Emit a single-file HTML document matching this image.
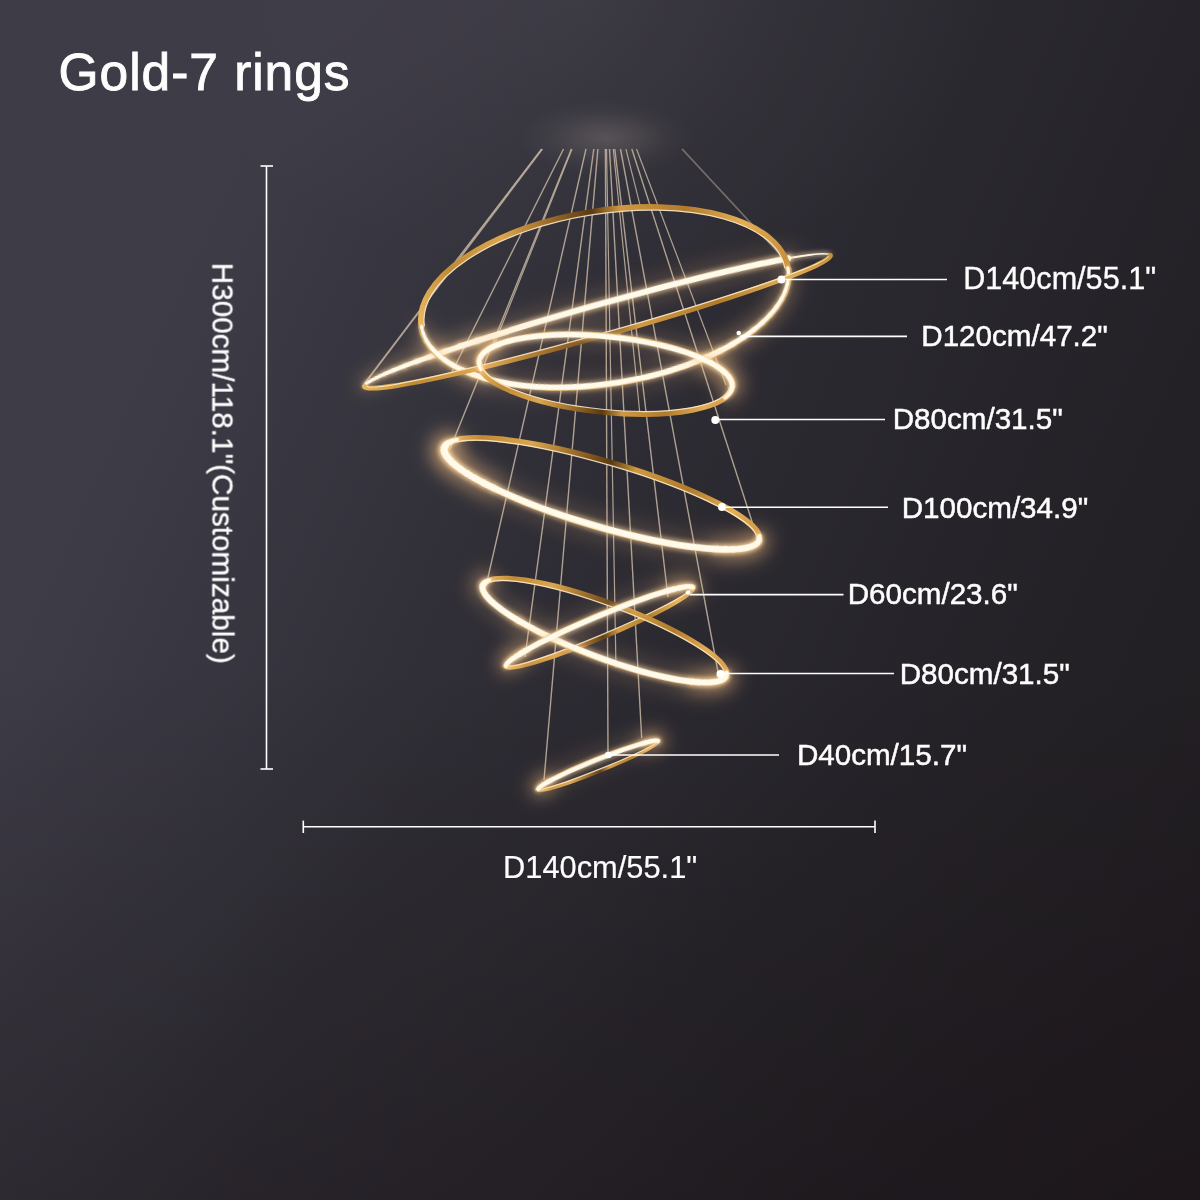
<!DOCTYPE html>
<html><head><meta charset="utf-8"><title>Gold-7 rings</title>
<style>
html,body{margin:0;padding:0;width:1200px;height:1200px;overflow:hidden;background:#2a272e;}
#stage{position:relative;width:1200px;height:1200px;overflow:hidden;
 background:
  radial-gradient(ellipse 420px 280px at 580px 0px, rgba(200,190,200,0.05), rgba(200,190,200,0) 100%),
  linear-gradient(to bottom, rgba(14,2,4,0) 0%, rgba(14,2,4,0) 55%, rgba(14,2,4,0.10) 75%, rgba(14,2,4,0.22) 100%),
  linear-gradient(114deg, rgb(62,60,71) 0%, rgb(61,59,70) 19%, rgb(56,54,64) 28%, rgb(52,51,60) 35%, rgb(47,45,53) 44%, rgb(43,41,48) 57%, rgb(38,36,42) 69%, rgb(35,32,37) 82%, rgb(32,28,32) 100%);
 font-family:"Liberation Sans",sans-serif;}
svg{position:absolute;left:0;top:0}
text{font-family:"Liberation Sans",sans-serif;fill:#fff}
</style></head>
<body><div id="stage">
<svg width="1200" height="1200" viewBox="0 0 1200 1200">
<defs>
<filter id="b10" filterUnits="userSpaceOnUse" x="-320" y="-320" width="640" height="640"><feGaussianBlur stdDeviation="9"/></filter>
<filter id="bh" x="-80%" y="-300%" width="260%" height="700%"><feGaussianBlur stdDeviation="13"/></filter>
<filter id="b3" filterUnits="userSpaceOnUse" x="-320" y="-320" width="640" height="640"><feGaussianBlur stdDeviation="2.2"/></filter>
<filter id="b06" filterUnits="userSpaceOnUse" x="-320" y="-320" width="640" height="640"><feGaussianBlur stdDeviation="0.5"/></filter>
<linearGradient id="gold" x1="0" y1="0" x2="1" y2="0">
<stop offset="0" stop-color="#e8b45a"/><stop offset="0.25" stop-color="#c98d3a"/><stop offset="0.5" stop-color="#9a6a2a"/><stop offset="0.75" stop-color="#c98d3a"/><stop offset="1" stop-color="#e0a850"/>
</linearGradient>
<radialGradient id="haze"><stop offset="0" stop-color="#9a8c88" stop-opacity="0.34"/><stop offset="0.35" stop-color="#958884" stop-opacity="0.22"/><stop offset="0.7" stop-color="#908480" stop-opacity="0.07"/><stop offset="1" stop-color="#908480" stop-opacity="0"/></radialGradient>
<linearGradient id="wfade" gradientUnits="userSpaceOnUse" x1="0" y1="149" x2="0" y2="200">
<stop offset="0" stop-color="#fff" stop-opacity="0"/><stop offset="1" stop-color="#fff" stop-opacity="1"/></linearGradient>
<linearGradient id="goldB" x1="0" y1="0" x2="1" y2="0"><stop offset="0" stop-color="#e6b45c"/><stop offset="0.1" stop-color="#c08a34"/><stop offset="0.25" stop-color="#dca64e"/><stop offset="0.42" stop-color="#8a5c20"/><stop offset="0.5" stop-color="#5a3a12"/><stop offset="0.58" stop-color="#d09840"/><stop offset="0.75" stop-color="#b07c2c"/><stop offset="0.9" stop-color="#e2ae56"/><stop offset="1" stop-color="#c8923c"/></linearGradient>
<linearGradient id="goldA" x1="0" y1="0" x2="1" y2="0"><stop offset="0" stop-color="#e6b45c"/><stop offset="0.1" stop-color="#c08a34"/><stop offset="0.25" stop-color="#dca64e"/><stop offset="0.42" stop-color="#8a5c20"/><stop offset="0.5" stop-color="#5a3a12"/><stop offset="0.58" stop-color="#d09840"/><stop offset="0.75" stop-color="#b07c2c"/><stop offset="0.9" stop-color="#e2ae56"/><stop offset="1" stop-color="#c8923c"/></linearGradient>
<linearGradient id="goldC" x1="0" y1="0" x2="1" y2="0"><stop offset="0" stop-color="#e6b45c"/><stop offset="0.1" stop-color="#c08a34"/><stop offset="0.25" stop-color="#dca64e"/><stop offset="0.42" stop-color="#8a5c20"/><stop offset="0.5" stop-color="#5a3a12"/><stop offset="0.58" stop-color="#d09840"/><stop offset="0.75" stop-color="#b07c2c"/><stop offset="0.9" stop-color="#e2ae56"/><stop offset="1" stop-color="#c8923c"/></linearGradient>
<linearGradient id="goldD" x1="0" y1="0" x2="1" y2="0"><stop offset="0" stop-color="#e6b45c"/><stop offset="0.1" stop-color="#c08a34"/><stop offset="0.25" stop-color="#dca64e"/><stop offset="0.42" stop-color="#8a5c20"/><stop offset="0.5" stop-color="#5a3a12"/><stop offset="0.58" stop-color="#d09840"/><stop offset="0.75" stop-color="#b07c2c"/><stop offset="0.9" stop-color="#e2ae56"/><stop offset="1" stop-color="#c8923c"/></linearGradient>
<linearGradient id="goldF" x1="0" y1="0" x2="1" y2="0"><stop offset="0" stop-color="#e6b45c"/><stop offset="0.1" stop-color="#c08a34"/><stop offset="0.25" stop-color="#dca64e"/><stop offset="0.42" stop-color="#8a5c20"/><stop offset="0.5" stop-color="#5a3a12"/><stop offset="0.58" stop-color="#d09840"/><stop offset="0.75" stop-color="#b07c2c"/><stop offset="0.9" stop-color="#e2ae56"/><stop offset="1" stop-color="#c8923c"/></linearGradient>
<linearGradient id="goldE" x1="0" y1="0" x2="1" y2="0"><stop offset="0" stop-color="#e6b45c"/><stop offset="0.1" stop-color="#c08a34"/><stop offset="0.25" stop-color="#dca64e"/><stop offset="0.42" stop-color="#8a5c20"/><stop offset="0.5" stop-color="#5a3a12"/><stop offset="0.58" stop-color="#d09840"/><stop offset="0.75" stop-color="#b07c2c"/><stop offset="0.9" stop-color="#e2ae56"/><stop offset="1" stop-color="#c8923c"/></linearGradient>
<linearGradient id="goldG" x1="0" y1="0" x2="1" y2="0"><stop offset="0" stop-color="#e6b45c"/><stop offset="0.1" stop-color="#c08a34"/><stop offset="0.25" stop-color="#dca64e"/><stop offset="0.42" stop-color="#8a5c20"/><stop offset="0.5" stop-color="#5a3a12"/><stop offset="0.58" stop-color="#d09840"/><stop offset="0.75" stop-color="#b07c2c"/><stop offset="0.9" stop-color="#e2ae56"/><stop offset="1" stop-color="#c8923c"/></linearGradient>
</defs>
<!-- haze at ceiling -->
<ellipse cx="606" cy="138" rx="88" ry="38" fill="url(#haze)"/>
<g stroke="#bdae9c" stroke-width="1.4" stroke-opacity="0.9" fill="none">
<line x1="542.2" y1="149" x2="365" y2="383" stroke-width="2.0"/>
<line x1="563.5" y1="149" x2="452" y2="372" stroke-width="1.4"/>
<line x1="571.4" y1="149" x2="450" y2="449" stroke-width="1.4"/>
<line x1="541.5" y1="149" x2="445" y2="275" stroke-width="1.2"/>
<line x1="586.0" y1="149" x2="486" y2="586" stroke-width="1.4"/>
<line x1="593.8" y1="149" x2="525" y2="657" stroke-width="1.4"/>
<line x1="572.0" y1="149" x2="492" y2="350" stroke-width="1.2"/>
<line x1="597.9" y1="149" x2="544" y2="780" stroke-width="1.4"/>
<line x1="605.4" y1="149" x2="608" y2="753" stroke-width="1.4"/>
<line x1="609.5" y1="149" x2="641.7" y2="738" stroke-width="1.4"/>
<line x1="625.9" y1="149" x2="640" y2="205" stroke-width="1.1"/>
<line x1="606.5" y1="149" x2="616" y2="668" stroke-width="1.2"/>
<line x1="613.3" y1="149" x2="640" y2="415" stroke-width="1.2"/>
<line x1="614.8" y1="149" x2="668" y2="597" stroke-width="1.4"/>
<line x1="636.5" y1="149" x2="726" y2="385" stroke-width="1.2"/>
<line x1="620.5" y1="149" x2="718" y2="672" stroke-width="1.4"/>
<line x1="631.8" y1="149" x2="757" y2="537" stroke-width="1.4"/>
<line x1="682.1" y1="149" x2="787" y2="262" stroke-width="1.8" stroke-opacity="0.5"/>
</g>
<g transform="translate(597.4 321.05) rotate(-15.7)">
<path d="M 195.78 -9.17 A 242.00 15.60 0 0 1 242.00 -0.00" fill="none" stroke="#ffe7c0" stroke-opacity="0.5" stroke-width="5" filter="url(#b3)"/>
<path d="M 195.78 -9.17 A 242.00 15.60 0 0 1 242.00 -0.00" fill="none" stroke="#fff6e2" stroke-width="2.2" stroke-linecap="round"/>
<g fill="none" stroke="#ffc98a" stroke-opacity="0.14" stroke-linecap="round" filter="url(#b10)"><path d="M -242.00 -0.00 A 242.00 15.60 0 0 1 -241.08 -1.36" stroke-width="11.3"/><path d="M -241.08 -1.36 A 242.00 15.60 0 0 1 -238.32 -2.71" stroke-width="12.3"/><path d="M -238.32 -2.71 A 242.00 15.60 0 0 1 -233.75 -4.04" stroke-width="13.3"/><path d="M -233.75 -4.04 A 242.00 15.60 0 0 1 -227.41 -5.34" stroke-width="14.3"/><path d="M -227.41 -5.34 A 242.00 15.60 0 0 1 -219.33 -6.59" stroke-width="15.7"/><path d="M -219.33 -6.59 A 242.00 15.60 0 0 1 -209.58 -7.80" stroke-width="17.4"/><path d="M -209.58 -7.80 A 242.00 15.60 0 0 1 -198.23 -8.95" stroke-width="19.1"/><path d="M -198.23 -8.95 A 242.00 15.60 0 0 1 -185.38 -10.03" stroke-width="20.8"/><path d="M -185.38 -10.03 A 242.00 15.60 0 0 1 -171.12 -11.03" stroke-width="22.3"/><path d="M -171.12 -11.03 A 242.00 15.60 0 0 1 -155.55 -11.95" stroke-width="23.6"/><path d="M -155.55 -11.95 A 242.00 15.60 0 0 1 -138.81 -12.78" stroke-width="25.0"/><path d="M -138.81 -12.78 A 242.00 15.60 0 0 1 -121.00 -13.51" stroke-width="26.3"/><path d="M -121.00 -13.51 A 242.00 15.60 0 0 1 200.63 -8.72" stroke-width="27.0"/></g>
<g fill="none" stroke="#ffd9a0" stroke-opacity="0.55" stroke-linecap="round" filter="url(#b3)"><path d="M -242.00 -0.00 A 242.00 15.60 0 0 1 -241.08 -1.36" stroke-width="4.3"/><path d="M -241.08 -1.36 A 242.00 15.60 0 0 1 -238.32 -2.71" stroke-width="4.7"/><path d="M -238.32 -2.71 A 242.00 15.60 0 0 1 -233.75 -4.04" stroke-width="5.0"/><path d="M -233.75 -4.04 A 242.00 15.60 0 0 1 -227.41 -5.34" stroke-width="5.4"/><path d="M -227.41 -5.34 A 242.00 15.60 0 0 1 -219.33 -6.59" stroke-width="5.9"/><path d="M -219.33 -6.59 A 242.00 15.60 0 0 1 -209.58 -7.80" stroke-width="6.6"/><path d="M -209.58 -7.80 A 242.00 15.60 0 0 1 -198.23 -8.95" stroke-width="7.2"/><path d="M -198.23 -8.95 A 242.00 15.60 0 0 1 -185.38 -10.03" stroke-width="7.8"/><path d="M -185.38 -10.03 A 242.00 15.60 0 0 1 -171.12 -11.03" stroke-width="8.4"/><path d="M -171.12 -11.03 A 242.00 15.60 0 0 1 -155.55 -11.95" stroke-width="8.9"/><path d="M -155.55 -11.95 A 242.00 15.60 0 0 1 -138.81 -12.78" stroke-width="9.4"/><path d="M -138.81 -12.78 A 242.00 15.60 0 0 1 -121.00 -13.51" stroke-width="9.9"/><path d="M -121.00 -13.51 A 242.00 15.60 0 0 1 200.63 -8.72" stroke-width="10.2"/></g>
<g fill="none" stroke="#fffaea" stroke-opacity="1" stroke-linecap="round" filter="url(#b06)"><path d="M -242.00 -0.00 A 242.00 15.60 0 0 1 -241.08 -1.36" stroke-width="2.5"/><path d="M -241.08 -1.36 A 242.00 15.60 0 0 1 -238.32 -2.71" stroke-width="2.7"/><path d="M -238.32 -2.71 A 242.00 15.60 0 0 1 -233.75 -4.04" stroke-width="3.0"/><path d="M -233.75 -4.04 A 242.00 15.60 0 0 1 -227.41 -5.34" stroke-width="3.2"/><path d="M -227.41 -5.34 A 242.00 15.60 0 0 1 -219.33 -6.59" stroke-width="3.5"/><path d="M -219.33 -6.59 A 242.00 15.60 0 0 1 -209.58 -7.80" stroke-width="3.9"/><path d="M -209.58 -7.80 A 242.00 15.60 0 0 1 -198.23 -8.95" stroke-width="4.2"/><path d="M -198.23 -8.95 A 242.00 15.60 0 0 1 -185.38 -10.03" stroke-width="4.6"/><path d="M -185.38 -10.03 A 242.00 15.60 0 0 1 -171.12 -11.03" stroke-width="5.0"/><path d="M -171.12 -11.03 A 242.00 15.60 0 0 1 -155.55 -11.95" stroke-width="5.2"/><path d="M -155.55 -11.95 A 242.00 15.60 0 0 1 -138.81 -12.78" stroke-width="5.6"/><path d="M -138.81 -12.78 A 242.00 15.60 0 0 1 -121.00 -13.51" stroke-width="5.8"/><path d="M -121.00 -13.51 A 242.00 15.60 0 0 1 200.63 -8.72" stroke-width="6.0"/></g>
</g>
<g transform="translate(604.7 297.2) rotate(-9.04)">
<path d="M -185.50 -0.00 A 185.50 86.30 0 0 1 185.50 -0.00" fill="none" stroke="url(#goldA)" stroke-width="6" stroke-linecap="round"/>
<path d="M -182.50 -0.00 A 182.50 83.30 0 0 1 182.50 -0.00" fill="none" stroke="#fff0d4" stroke-opacity="0.85" stroke-width="1.2"/>
</g>
<g transform="translate(604.7 297.2) rotate(-9.04)">
<path d="M -188.25 -0.00 A 188.25 89.05 0 0 0 188.25 0.00" fill="none" stroke="#b9822f" stroke-width="1.6"/>
<g fill="none" stroke="#ffc98a" stroke-opacity="0.14" stroke-linecap="round" filter="url(#b10)"><path d="M -185.50 -0.00 A 185.50 86.30 0 0 0 -184.79 7.52" stroke-width="14.4"/><path d="M -184.79 7.52 A 185.50 86.30 0 0 0 -182.68 14.99" stroke-width="15.8"/><path d="M -182.68 14.99 A 185.50 86.30 0 0 0 -179.18 22.34" stroke-width="17.3"/><path d="M -179.18 22.34 A 185.50 86.30 0 0 0 -174.31 29.52" stroke-width="18.8"/><path d="M -174.31 29.52 A 185.50 86.30 0 0 0 -168.12 36.47" stroke-width="20.3"/><path d="M -168.12 36.47 A 185.50 86.30 0 0 0 -160.65 43.15" stroke-width="21.5"/><path d="M -160.65 43.15 A 185.50 86.30 0 0 0 -151.95 49.50" stroke-width="22.4"/><path d="M -151.95 49.50 A 185.50 86.30 0 0 0 -142.10 55.47" stroke-width="23.4"/><path d="M -142.10 55.47 A 185.50 86.30 0 0 0 -131.17 61.02" stroke-width="24.3"/><path d="M -131.17 61.02 A 185.50 86.30 0 0 0 92.75 74.74" stroke-width="24.8"/><path d="M 92.75 74.74 A 185.50 86.30 0 0 0 106.40 70.69" stroke-width="24.2"/><path d="M 106.40 70.69 A 185.50 86.30 0 0 0 119.24 66.11" stroke-width="23.2"/><path d="M 119.24 66.11 A 185.50 86.30 0 0 0 131.17 61.02" stroke-width="22.2"/><path d="M 131.17 61.02 A 185.50 86.30 0 0 0 142.10 55.47" stroke-width="21.1"/><path d="M 142.10 55.47 A 185.50 86.30 0 0 0 151.95 49.50" stroke-width="20.1"/><path d="M 151.95 49.50 A 185.50 86.30 0 0 0 160.65 43.15" stroke-width="19.1"/><path d="M 160.65 43.15 A 185.50 86.30 0 0 0 168.12 36.47" stroke-width="18.3"/><path d="M 168.12 36.47 A 185.50 86.30 0 0 0 174.31 29.52" stroke-width="17.6"/><path d="M 174.31 29.52 A 185.50 86.30 0 0 0 179.18 22.34" stroke-width="17.0"/><path d="M 179.18 22.34 A 185.50 86.30 0 0 0 182.68 14.99" stroke-width="16.4"/><path d="M 182.68 14.99 A 185.50 86.30 0 0 0 184.79 7.52" stroke-width="15.8"/><path d="M 184.79 7.52 A 185.50 86.30 0 0 0 185.50 0.00" stroke-width="15.2"/></g>
<g fill="none" stroke="#ffd9a0" stroke-opacity="0.55" stroke-linecap="round" filter="url(#b3)"><path d="M -185.50 -0.00 A 185.50 86.30 0 0 0 -184.79 7.52" stroke-width="5.4"/><path d="M -184.79 7.52 A 185.50 86.30 0 0 0 -182.68 14.99" stroke-width="6.0"/><path d="M -182.68 14.99 A 185.50 86.30 0 0 0 -179.18 22.34" stroke-width="6.5"/><path d="M -179.18 22.34 A 185.50 86.30 0 0 0 -174.31 29.52" stroke-width="7.1"/><path d="M -174.31 29.52 A 185.50 86.30 0 0 0 -168.12 36.47" stroke-width="7.7"/><path d="M -168.12 36.47 A 185.50 86.30 0 0 0 -160.65 43.15" stroke-width="8.1"/><path d="M -160.65 43.15 A 185.50 86.30 0 0 0 -151.95 49.50" stroke-width="8.5"/><path d="M -151.95 49.50 A 185.50 86.30 0 0 0 -142.10 55.47" stroke-width="8.8"/><path d="M -142.10 55.47 A 185.50 86.30 0 0 0 -131.17 61.02" stroke-width="9.2"/><path d="M -131.17 61.02 A 185.50 86.30 0 0 0 92.75 74.74" stroke-width="9.3"/><path d="M 92.75 74.74 A 185.50 86.30 0 0 0 106.40 70.69" stroke-width="9.2"/><path d="M 106.40 70.69 A 185.50 86.30 0 0 0 119.24 66.11" stroke-width="8.8"/><path d="M 119.24 66.11 A 185.50 86.30 0 0 0 131.17 61.02" stroke-width="8.4"/><path d="M 131.17 61.02 A 185.50 86.30 0 0 0 142.10 55.47" stroke-width="8.0"/><path d="M 142.10 55.47 A 185.50 86.30 0 0 0 151.95 49.50" stroke-width="7.6"/><path d="M 151.95 49.50 A 185.50 86.30 0 0 0 160.65 43.15" stroke-width="7.2"/><path d="M 160.65 43.15 A 185.50 86.30 0 0 0 168.12 36.47" stroke-width="6.9"/><path d="M 168.12 36.47 A 185.50 86.30 0 0 0 174.31 29.52" stroke-width="6.7"/><path d="M 174.31 29.52 A 185.50 86.30 0 0 0 179.18 22.34" stroke-width="6.4"/><path d="M 179.18 22.34 A 185.50 86.30 0 0 0 182.68 14.99" stroke-width="6.2"/><path d="M 182.68 14.99 A 185.50 86.30 0 0 0 184.79 7.52" stroke-width="6.0"/><path d="M 184.79 7.52 A 185.50 86.30 0 0 0 185.50 0.00" stroke-width="5.7"/></g>
<g fill="none" stroke="#fffaea" stroke-opacity="1" stroke-linecap="round" filter="url(#b06)"><path d="M -185.50 -0.00 A 185.50 86.30 0 0 0 -184.79 7.52" stroke-width="3.2"/><path d="M -184.79 7.52 A 185.50 86.30 0 0 0 -182.68 14.99" stroke-width="3.5"/><path d="M -182.68 14.99 A 185.50 86.30 0 0 0 -179.18 22.34" stroke-width="3.8"/><path d="M -179.18 22.34 A 185.50 86.30 0 0 0 -174.31 29.52" stroke-width="4.2"/><path d="M -174.31 29.52 A 185.50 86.30 0 0 0 -168.12 36.47" stroke-width="4.5"/><path d="M -168.12 36.47 A 185.50 86.30 0 0 0 -160.65 43.15" stroke-width="4.8"/><path d="M -160.65 43.15 A 185.50 86.30 0 0 0 -151.95 49.50" stroke-width="5.0"/><path d="M -151.95 49.50 A 185.50 86.30 0 0 0 -142.10 55.47" stroke-width="5.2"/><path d="M -142.10 55.47 A 185.50 86.30 0 0 0 -131.17 61.02" stroke-width="5.4"/><path d="M -131.17 61.02 A 185.50 86.30 0 0 0 92.75 74.74" stroke-width="5.5"/><path d="M 92.75 74.74 A 185.50 86.30 0 0 0 106.40 70.69" stroke-width="5.4"/><path d="M 106.40 70.69 A 185.50 86.30 0 0 0 119.24 66.11" stroke-width="5.2"/><path d="M 119.24 66.11 A 185.50 86.30 0 0 0 131.17 61.02" stroke-width="4.9"/><path d="M 131.17 61.02 A 185.50 86.30 0 0 0 142.10 55.47" stroke-width="4.7"/><path d="M 142.10 55.47 A 185.50 86.30 0 0 0 151.95 49.50" stroke-width="4.5"/><path d="M 151.95 49.50 A 185.50 86.30 0 0 0 160.65 43.15" stroke-width="4.2"/><path d="M 160.65 43.15 A 185.50 86.30 0 0 0 168.12 36.47" stroke-width="4.1"/><path d="M 168.12 36.47 A 185.50 86.30 0 0 0 174.31 29.52" stroke-width="3.9"/><path d="M 174.31 29.52 A 185.50 86.30 0 0 0 179.18 22.34" stroke-width="3.8"/><path d="M 179.18 22.34 A 185.50 86.30 0 0 0 182.68 14.99" stroke-width="3.6"/><path d="M 182.68 14.99 A 185.50 86.30 0 0 0 184.79 7.52" stroke-width="3.5"/><path d="M 184.79 7.52 A 185.50 86.30 0 0 0 185.50 0.00" stroke-width="3.4"/></g>
</g>
<g transform="translate(597.4 321.05) rotate(-15.7)">
<path d="M -242.00 -0.00 A 242.00 15.60 0 0 0 242.00 0.00" fill="none" stroke="url(#goldB)" stroke-width="5" stroke-linecap="round"/>
<path d="M -239.50 -0.00 A 239.50 13.10 0 0 0 239.50 0.00" fill="none" stroke="#fff0d4" stroke-opacity="0.85" stroke-width="1.2"/>
</g>
<g transform="translate(605.6 374.4) rotate(5.72)">
<path d="M -127.20 -0.00 A 127.20 37.80 0 0 0 127.20 0.00" fill="none" stroke="url(#goldC)" stroke-width="5.5" stroke-linecap="round"/>
<path d="M -124.45 -0.00 A 124.45 35.05 0 0 0 124.45 0.00" fill="none" stroke="#fff0d4" stroke-opacity="0.85" stroke-width="1.2"/>
</g>
<g transform="translate(605.6 374.4) rotate(5.72)">
<path d="M -129.95 -0.00 A 129.95 40.55 0 0 1 129.95 -0.00" fill="none" stroke="#b9822f" stroke-width="1.6"/>
<g fill="none" stroke="#ffc98a" stroke-opacity="0.14" stroke-linecap="round" filter="url(#b10)"><path d="M -124.42 7.86 A 127.20 37.80 0 0 1 -126.50 3.95" stroke-width="14.2"/><path d="M -126.50 3.95 A 127.20 37.80 0 0 1 -127.20 -0.00" stroke-width="17.9"/><path d="M -127.20 -0.00 A 127.20 37.80 0 0 1 -126.72 -3.29" stroke-width="20.2"/><path d="M -126.72 -3.29 A 127.20 37.80 0 0 1 -125.27 -6.56" stroke-width="21.0"/><path d="M -125.27 -6.56 A 127.20 37.80 0 0 1 -122.87 -9.78" stroke-width="21.9"/><path d="M -122.87 -9.78 A 127.20 37.80 0 0 1 -119.53 -12.93" stroke-width="22.7"/><path d="M -119.53 -12.93 A 127.20 37.80 0 0 1 -115.28 -15.97" stroke-width="23.5"/><path d="M -115.28 -15.97 A 127.20 37.80 0 0 1 -110.16 -18.90" stroke-width="24.3"/><path d="M -110.16 -18.90 A 127.20 37.80 0 0 1 97.44 -24.30" stroke-width="24.8"/><path d="M 97.44 -24.30 A 127.20 37.80 0 0 1 104.20 -21.68" stroke-width="24.5"/><path d="M 104.20 -21.68 A 127.20 37.80 0 0 1 110.16 -18.90" stroke-width="24.1"/><path d="M 110.16 -18.90 A 127.20 37.80 0 0 1 115.28 -15.97" stroke-width="23.6"/><path d="M 115.28 -15.97 A 127.20 37.80 0 0 1 119.53 -12.93" stroke-width="23.1"/><path d="M 119.53 -12.93 A 127.20 37.80 0 0 1 122.87 -9.78" stroke-width="22.7"/><path d="M 122.87 -9.78 A 127.20 37.80 0 0 1 125.27 -6.56" stroke-width="22.2"/><path d="M 125.27 -6.56 A 127.20 37.80 0 0 1 126.72 -3.29" stroke-width="21.7"/><path d="M 126.72 -3.29 A 127.20 37.80 0 0 1 127.20 -0.00" stroke-width="21.3"/><path d="M 127.20 -0.00 A 127.20 37.80 0 0 1 126.50 3.95" stroke-width="19.6"/><path d="M 126.50 3.95 A 127.20 37.80 0 0 1 124.42 7.86" stroke-width="16.7"/><path d="M 124.42 7.86 A 127.20 37.80 0 0 1 120.97 11.68" stroke-width="13.8"/></g>
<g fill="none" stroke="#ffd9a0" stroke-opacity="0.55" stroke-linecap="round" filter="url(#b3)"><path d="M -124.42 7.86 A 127.20 37.80 0 0 1 -126.50 3.95" stroke-width="5.4"/><path d="M -126.50 3.95 A 127.20 37.80 0 0 1 -127.20 -0.00" stroke-width="6.8"/><path d="M -127.20 -0.00 A 127.20 37.80 0 0 1 -126.72 -3.29" stroke-width="7.6"/><path d="M -126.72 -3.29 A 127.20 37.80 0 0 1 -125.27 -6.56" stroke-width="7.9"/><path d="M -125.27 -6.56 A 127.20 37.80 0 0 1 -122.87 -9.78" stroke-width="8.3"/><path d="M -122.87 -9.78 A 127.20 37.80 0 0 1 -119.53 -12.93" stroke-width="8.6"/><path d="M -119.53 -12.93 A 127.20 37.80 0 0 1 -115.28 -15.97" stroke-width="8.9"/><path d="M -115.28 -15.97 A 127.20 37.80 0 0 1 -110.16 -18.90" stroke-width="9.2"/><path d="M -110.16 -18.90 A 127.20 37.80 0 0 1 97.44 -24.30" stroke-width="9.3"/><path d="M 97.44 -24.30 A 127.20 37.80 0 0 1 104.20 -21.68" stroke-width="9.3"/><path d="M 104.20 -21.68 A 127.20 37.80 0 0 1 110.16 -18.90" stroke-width="9.1"/><path d="M 110.16 -18.90 A 127.20 37.80 0 0 1 115.28 -15.97" stroke-width="8.9"/><path d="M 115.28 -15.97 A 127.20 37.80 0 0 1 119.53 -12.93" stroke-width="8.7"/><path d="M 119.53 -12.93 A 127.20 37.80 0 0 1 122.87 -9.78" stroke-width="8.6"/><path d="M 122.87 -9.78 A 127.20 37.80 0 0 1 125.27 -6.56" stroke-width="8.4"/><path d="M 125.27 -6.56 A 127.20 37.80 0 0 1 126.72 -3.29" stroke-width="8.2"/><path d="M 126.72 -3.29 A 127.20 37.80 0 0 1 127.20 -0.00" stroke-width="8.0"/><path d="M 127.20 -0.00 A 127.20 37.80 0 0 1 126.50 3.95" stroke-width="7.4"/><path d="M 126.50 3.95 A 127.20 37.80 0 0 1 124.42 7.86" stroke-width="6.3"/><path d="M 124.42 7.86 A 127.20 37.80 0 0 1 120.97 11.68" stroke-width="5.2"/></g>
<g fill="none" stroke="#fffaea" stroke-opacity="1" stroke-linecap="round" filter="url(#b06)"><path d="M -124.42 7.86 A 127.20 37.80 0 0 1 -126.50 3.95" stroke-width="3.2"/><path d="M -126.50 3.95 A 127.20 37.80 0 0 1 -127.20 -0.00" stroke-width="4.0"/><path d="M -127.20 -0.00 A 127.20 37.80 0 0 1 -126.72 -3.29" stroke-width="4.5"/><path d="M -126.72 -3.29 A 127.20 37.80 0 0 1 -125.27 -6.56" stroke-width="4.7"/><path d="M -125.27 -6.56 A 127.20 37.80 0 0 1 -122.87 -9.78" stroke-width="4.9"/><path d="M -122.87 -9.78 A 127.20 37.80 0 0 1 -119.53 -12.93" stroke-width="5.0"/><path d="M -119.53 -12.93 A 127.20 37.80 0 0 1 -115.28 -15.97" stroke-width="5.2"/><path d="M -115.28 -15.97 A 127.20 37.80 0 0 1 -110.16 -18.90" stroke-width="5.4"/><path d="M -110.16 -18.90 A 127.20 37.80 0 0 1 97.44 -24.30" stroke-width="5.5"/><path d="M 97.44 -24.30 A 127.20 37.80 0 0 1 104.20 -21.68" stroke-width="5.4"/><path d="M 104.20 -21.68 A 127.20 37.80 0 0 1 110.16 -18.90" stroke-width="5.3"/><path d="M 110.16 -18.90 A 127.20 37.80 0 0 1 115.28 -15.97" stroke-width="5.2"/><path d="M 115.28 -15.97 A 127.20 37.80 0 0 1 119.53 -12.93" stroke-width="5.1"/><path d="M 119.53 -12.93 A 127.20 37.80 0 0 1 122.87 -9.78" stroke-width="5.0"/><path d="M 122.87 -9.78 A 127.20 37.80 0 0 1 125.27 -6.56" stroke-width="4.9"/><path d="M 125.27 -6.56 A 127.20 37.80 0 0 1 126.72 -3.29" stroke-width="4.8"/><path d="M 126.72 -3.29 A 127.20 37.80 0 0 1 127.20 -0.00" stroke-width="4.7"/><path d="M 127.20 -0.00 A 127.20 37.80 0 0 1 126.50 3.95" stroke-width="4.4"/><path d="M 126.50 3.95 A 127.20 37.80 0 0 1 124.42 7.86" stroke-width="3.7"/><path d="M 124.42 7.86 A 127.20 37.80 0 0 1 120.97 11.68" stroke-width="3.1"/></g>
</g>
<g transform="translate(601.8 493.7) rotate(16.34)">
<path d="M -164.00 -0.00 A 164.00 32.50 0 0 1 164.00 -0.00" fill="none" stroke="url(#goldD)" stroke-width="6" stroke-linecap="round"/>
<path d="M -161.00 -0.00 A 161.00 29.50 0 0 1 161.00 -0.00" fill="none" stroke="#fff0d4" stroke-opacity="0.85" stroke-width="1.2"/>
</g>
<g transform="translate(601.8 493.7) rotate(16.34)">
<path d="M -167.25 -0.00 A 167.25 35.75 0 0 0 167.25 0.00" fill="none" stroke="#b9822f" stroke-width="1.6"/>
<g fill="none" stroke="#ffc98a" stroke-opacity="0.14" stroke-linecap="round" filter="url(#b10)"><path d="M -154.11 -11.12 A 164.00 32.50 0 0 0 -158.41 -8.41" stroke-width="16.6"/><path d="M -158.41 -8.41 A 164.00 32.50 0 0 0 -161.51 -5.64" stroke-width="20.7"/><path d="M -161.51 -5.64 A 164.00 32.50 0 0 0 -163.38 -2.83" stroke-width="24.7"/><path d="M -163.38 -2.83 A 164.00 32.50 0 0 0 -164.00 -0.00" stroke-width="28.7"/><path d="M -164.00 -0.00 A 164.00 32.50 0 0 0 -163.38 2.83" stroke-width="30.6"/><path d="M -163.38 2.83 A 164.00 32.50 0 0 0 -161.51 5.64" stroke-width="30.5"/><path d="M -161.51 5.64 A 164.00 32.50 0 0 0 -158.41 8.41" stroke-width="30.3"/><path d="M -158.41 8.41 A 164.00 32.50 0 0 0 -154.11 11.12" stroke-width="30.2"/><path d="M -154.11 11.12 A 164.00 32.50 0 0 0 -148.63 13.74" stroke-width="30.1"/><path d="M -148.63 13.74 A 164.00 32.50 0 0 0 -142.03 16.25" stroke-width="29.9"/><path d="M -142.03 16.25 A 164.00 32.50 0 0 0 -134.34 18.64" stroke-width="29.8"/><path d="M -134.34 18.64 A 164.00 32.50 0 0 0 -125.63 20.89" stroke-width="29.6"/><path d="M -125.63 20.89 A 164.00 32.50 0 0 0 -115.97 22.98" stroke-width="29.5"/><path d="M -115.97 22.98 A 164.00 32.50 0 0 0 -105.42 24.90" stroke-width="29.3"/><path d="M -105.42 24.90 A 164.00 32.50 0 0 0 125.63 20.89" stroke-width="29.2"/><path d="M 125.63 20.89 A 164.00 32.50 0 0 0 134.34 18.64" stroke-width="28.9"/><path d="M 134.34 18.64 A 164.00 32.50 0 0 0 142.03 16.25" stroke-width="28.2"/><path d="M 142.03 16.25 A 164.00 32.50 0 0 0 148.63 13.74" stroke-width="27.4"/><path d="M 148.63 13.74 A 164.00 32.50 0 0 0 154.11 11.12" stroke-width="26.7"/><path d="M 154.11 11.12 A 164.00 32.50 0 0 0 158.41 8.41" stroke-width="26.0"/><path d="M 158.41 8.41 A 164.00 32.50 0 0 0 161.51 5.64" stroke-width="25.2"/><path d="M 161.51 5.64 A 164.00 32.50 0 0 0 163.38 2.83" stroke-width="24.5"/><path d="M 163.38 2.83 A 164.00 32.50 0 0 0 164.00 0.00" stroke-width="23.8"/><path d="M 164.00 0.00 A 164.00 32.50 0 0 0 163.10 -3.40" stroke-width="20.5"/></g>
<g fill="none" stroke="#ffd9a0" stroke-opacity="0.55" stroke-linecap="round" filter="url(#b3)"><path d="M -154.11 -11.12 A 164.00 32.50 0 0 0 -158.41 -8.41" stroke-width="6.3"/><path d="M -158.41 -8.41 A 164.00 32.50 0 0 0 -161.51 -5.64" stroke-width="7.8"/><path d="M -161.51 -5.64 A 164.00 32.50 0 0 0 -163.38 -2.83" stroke-width="9.3"/><path d="M -163.38 -2.83 A 164.00 32.50 0 0 0 -164.00 -0.00" stroke-width="10.8"/><path d="M -164.00 -0.00 A 164.00 32.50 0 0 0 -163.38 2.83" stroke-width="11.6"/><path d="M -163.38 2.83 A 164.00 32.50 0 0 0 -161.51 5.64" stroke-width="11.5"/><path d="M -161.51 5.64 A 164.00 32.50 0 0 0 -158.41 8.41" stroke-width="11.5"/><path d="M -158.41 8.41 A 164.00 32.50 0 0 0 -154.11 11.12" stroke-width="11.4"/><path d="M -154.11 11.12 A 164.00 32.50 0 0 0 -148.63 13.74" stroke-width="11.4"/><path d="M -148.63 13.74 A 164.00 32.50 0 0 0 -142.03 16.25" stroke-width="11.3"/><path d="M -142.03 16.25 A 164.00 32.50 0 0 0 -134.34 18.64" stroke-width="11.2"/><path d="M -134.34 18.64 A 164.00 32.50 0 0 0 -125.63 20.89" stroke-width="11.2"/><path d="M -125.63 20.89 A 164.00 32.50 0 0 0 -115.97 22.98" stroke-width="11.1"/><path d="M -115.97 22.98 A 164.00 32.50 0 0 0 -105.42 24.90" stroke-width="11.1"/><path d="M -105.42 24.90 A 164.00 32.50 0 0 0 125.63 20.89" stroke-width="11.0"/><path d="M 125.63 20.89 A 164.00 32.50 0 0 0 134.34 18.64" stroke-width="10.9"/><path d="M 134.34 18.64 A 164.00 32.50 0 0 0 142.03 16.25" stroke-width="10.6"/><path d="M 142.03 16.25 A 164.00 32.50 0 0 0 148.63 13.74" stroke-width="10.4"/><path d="M 148.63 13.74 A 164.00 32.50 0 0 0 154.11 11.12" stroke-width="10.1"/><path d="M 154.11 11.12 A 164.00 32.50 0 0 0 158.41 8.41" stroke-width="9.8"/><path d="M 158.41 8.41 A 164.00 32.50 0 0 0 161.51 5.64" stroke-width="9.5"/><path d="M 161.51 5.64 A 164.00 32.50 0 0 0 163.38 2.83" stroke-width="9.3"/><path d="M 163.38 2.83 A 164.00 32.50 0 0 0 164.00 0.00" stroke-width="9.0"/><path d="M 164.00 0.00 A 164.00 32.50 0 0 0 163.10 -3.40" stroke-width="7.7"/></g>
<g fill="none" stroke="#fffaea" stroke-opacity="1" stroke-linecap="round" filter="url(#b06)"><path d="M -154.11 -11.12 A 164.00 32.50 0 0 0 -158.41 -8.41" stroke-width="3.7"/><path d="M -158.41 -8.41 A 164.00 32.50 0 0 0 -161.51 -5.64" stroke-width="4.6"/><path d="M -161.51 -5.64 A 164.00 32.50 0 0 0 -163.38 -2.83" stroke-width="5.5"/><path d="M -163.38 -2.83 A 164.00 32.50 0 0 0 -164.00 -0.00" stroke-width="6.4"/><path d="M -164.00 -0.00 A 164.00 32.50 0 0 0 -163.38 2.83" stroke-width="6.8"/><path d="M -163.38 2.83 A 164.00 32.50 0 0 0 -161.51 5.64" stroke-width="6.8"/><path d="M -161.51 5.64 A 164.00 32.50 0 0 0 -158.41 8.41" stroke-width="6.7"/><path d="M -158.41 8.41 A 164.00 32.50 0 0 0 -154.11 11.12" stroke-width="6.7"/><path d="M -154.11 11.12 A 164.00 32.50 0 0 0 -148.63 13.74" stroke-width="6.7"/><path d="M -148.63 13.74 A 164.00 32.50 0 0 0 -142.03 16.25" stroke-width="6.6"/><path d="M -142.03 16.25 A 164.00 32.50 0 0 0 -134.34 18.64" stroke-width="6.6"/><path d="M -134.34 18.64 A 164.00 32.50 0 0 0 -125.63 20.89" stroke-width="6.6"/><path d="M -125.63 20.89 A 164.00 32.50 0 0 0 -115.97 22.98" stroke-width="6.5"/><path d="M -115.97 22.98 A 164.00 32.50 0 0 0 -105.42 24.90" stroke-width="6.5"/><path d="M -105.42 24.90 A 164.00 32.50 0 0 0 125.63 20.89" stroke-width="6.5"/><path d="M 125.63 20.89 A 164.00 32.50 0 0 0 134.34 18.64" stroke-width="6.4"/><path d="M 134.34 18.64 A 164.00 32.50 0 0 0 142.03 16.25" stroke-width="6.3"/><path d="M 142.03 16.25 A 164.00 32.50 0 0 0 148.63 13.74" stroke-width="6.1"/><path d="M 148.63 13.74 A 164.00 32.50 0 0 0 154.11 11.12" stroke-width="5.9"/><path d="M 154.11 11.12 A 164.00 32.50 0 0 0 158.41 8.41" stroke-width="5.8"/><path d="M 158.41 8.41 A 164.00 32.50 0 0 0 161.51 5.64" stroke-width="5.6"/><path d="M 161.51 5.64 A 164.00 32.50 0 0 0 163.38 2.83" stroke-width="5.4"/><path d="M 163.38 2.83 A 164.00 32.50 0 0 0 164.00 0.00" stroke-width="5.3"/><path d="M 164.00 0.00 A 164.00 32.50 0 0 0 163.10 -3.40" stroke-width="4.5"/></g>
</g>
<g transform="translate(599.5 627) rotate(-22.8)">
<path d="M -101.50 -0.00 A 101.50 10.50 0 0 0 101.50 0.00" fill="none" stroke="url(#goldE)" stroke-width="5" stroke-linecap="round"/>
<path d="M -99.00 -0.00 A 99.00 8.00 0 0 0 99.00 0.00" fill="none" stroke="#fff0d4" stroke-opacity="0.85" stroke-width="1.2"/>
</g>
<g transform="translate(604.6 630.4) rotate(20.39)">
<path d="M -129.80 -0.00 A 129.80 27.30 0 0 1 129.80 -0.00" fill="none" stroke="url(#goldF)" stroke-width="5.5" stroke-linecap="round"/>
<path d="M -127.05 -0.00 A 127.05 24.55 0 0 1 127.05 -0.00" fill="none" stroke="#fff0d4" stroke-opacity="0.85" stroke-width="1.2"/>
</g>
<g transform="translate(604.6 630.4) rotate(20.39)">
<path d="M -132.80 -0.00 A 132.80 30.30 0 0 0 132.80 0.00" fill="none" stroke="#b9822f" stroke-width="1.6"/>
<g fill="none" stroke="#ffc98a" stroke-opacity="0.14" stroke-linecap="round" filter="url(#b10)"><path d="M -125.38 -7.07 A 129.80 27.30 0 0 0 -127.83 -4.74" stroke-width="15.8"/><path d="M -127.83 -4.74 A 129.80 27.30 0 0 0 -129.31 -2.38" stroke-width="20.2"/><path d="M -129.31 -2.38 A 129.80 27.30 0 0 0 -129.80 -0.00" stroke-width="24.8"/><path d="M -129.80 -0.00 A 129.80 27.30 0 0 0 -83.43 20.91" stroke-width="27.0"/><path d="M -83.43 20.91 A 129.80 27.30 0 0 0 99.43 17.55" stroke-width="27.0"/><path d="M 99.43 17.55 A 129.80 27.30 0 0 0 106.33 15.66" stroke-width="26.7"/><path d="M 106.33 15.66 A 129.80 27.30 0 0 0 112.41 13.65" stroke-width="26.2"/><path d="M 112.41 13.65 A 129.80 27.30 0 0 0 117.64 11.54" stroke-width="25.7"/><path d="M 117.64 11.54 A 129.80 27.30 0 0 0 121.97 9.34" stroke-width="25.2"/><path d="M 121.97 9.34 A 129.80 27.30 0 0 0 125.38 7.07" stroke-width="24.7"/><path d="M 125.38 7.07 A 129.80 27.30 0 0 0 127.83 4.74" stroke-width="24.2"/><path d="M 127.83 4.74 A 129.80 27.30 0 0 0 129.31 2.38" stroke-width="23.7"/><path d="M 129.31 2.38 A 129.80 27.30 0 0 0 129.80 0.00" stroke-width="23.2"/><path d="M 129.80 0.00 A 129.80 27.30 0 0 0 129.09 -2.85" stroke-width="19.6"/></g>
<g fill="none" stroke="#ffd9a0" stroke-opacity="0.55" stroke-linecap="round" filter="url(#b3)"><path d="M -125.38 -7.07 A 129.80 27.30 0 0 0 -127.83 -4.74" stroke-width="6.0"/><path d="M -127.83 -4.74 A 129.80 27.30 0 0 0 -129.31 -2.38" stroke-width="7.6"/><path d="M -129.31 -2.38 A 129.80 27.30 0 0 0 -129.80 -0.00" stroke-width="9.3"/><path d="M -129.80 -0.00 A 129.80 27.30 0 0 0 -83.43 20.91" stroke-width="10.2"/><path d="M -83.43 20.91 A 129.80 27.30 0 0 0 99.43 17.55" stroke-width="10.2"/><path d="M 99.43 17.55 A 129.80 27.30 0 0 0 106.33 15.66" stroke-width="10.1"/><path d="M 106.33 15.66 A 129.80 27.30 0 0 0 112.41 13.65" stroke-width="9.9"/><path d="M 112.41 13.65 A 129.80 27.30 0 0 0 117.64 11.54" stroke-width="9.7"/><path d="M 117.64 11.54 A 129.80 27.30 0 0 0 121.97 9.34" stroke-width="9.5"/><path d="M 121.97 9.34 A 129.80 27.30 0 0 0 125.38 7.07" stroke-width="9.3"/><path d="M 125.38 7.07 A 129.80 27.30 0 0 0 127.83 4.74" stroke-width="9.1"/><path d="M 127.83 4.74 A 129.80 27.30 0 0 0 129.31 2.38" stroke-width="9.0"/><path d="M 129.31 2.38 A 129.80 27.30 0 0 0 129.80 0.00" stroke-width="8.8"/><path d="M 129.80 0.00 A 129.80 27.30 0 0 0 129.09 -2.85" stroke-width="7.4"/></g>
<g fill="none" stroke="#fffaea" stroke-opacity="1" stroke-linecap="round" filter="url(#b06)"><path d="M -125.38 -7.07 A 129.80 27.30 0 0 0 -127.83 -4.74" stroke-width="3.5"/><path d="M -127.83 -4.74 A 129.80 27.30 0 0 0 -129.31 -2.38" stroke-width="4.5"/><path d="M -129.31 -2.38 A 129.80 27.30 0 0 0 -129.80 -0.00" stroke-width="5.5"/><path d="M -129.80 -0.00 A 129.80 27.30 0 0 0 -83.43 20.91" stroke-width="6.0"/><path d="M -83.43 20.91 A 129.80 27.30 0 0 0 99.43 17.55" stroke-width="6.0"/><path d="M 99.43 17.55 A 129.80 27.30 0 0 0 106.33 15.66" stroke-width="5.9"/><path d="M 106.33 15.66 A 129.80 27.30 0 0 0 112.41 13.65" stroke-width="5.8"/><path d="M 112.41 13.65 A 129.80 27.30 0 0 0 117.64 11.54" stroke-width="5.7"/><path d="M 117.64 11.54 A 129.80 27.30 0 0 0 121.97 9.34" stroke-width="5.6"/><path d="M 121.97 9.34 A 129.80 27.30 0 0 0 125.38 7.07" stroke-width="5.5"/><path d="M 125.38 7.07 A 129.80 27.30 0 0 0 127.83 4.74" stroke-width="5.4"/><path d="M 127.83 4.74 A 129.80 27.30 0 0 0 129.31 2.38" stroke-width="5.3"/><path d="M 129.31 2.38 A 129.80 27.30 0 0 0 129.80 0.00" stroke-width="5.2"/><path d="M 129.80 0.00 A 129.80 27.30 0 0 0 129.09 -2.85" stroke-width="4.3"/></g>
</g>
<g transform="translate(599.5 627) rotate(-22.8)">
<path d="M -104.25 -0.00 A 104.25 13.25 0 0 1 104.25 -0.00" fill="none" stroke="#b9822f" stroke-width="1.6"/>
<g fill="none" stroke="#ffc98a" stroke-opacity="0.14" stroke-linecap="round" filter="url(#b10)"><path d="M -101.50 -0.00 A 101.50 10.50 0 0 1 -101.11 -0.92" stroke-width="15.5"/><path d="M -101.11 -0.92 A 101.50 10.50 0 0 1 -99.96 -1.82" stroke-width="16.7"/><path d="M -99.96 -1.82 A 101.50 10.50 0 0 1 -98.04 -2.72" stroke-width="17.9"/><path d="M -98.04 -2.72 A 101.50 10.50 0 0 1 -95.38 -3.59" stroke-width="19.2"/><path d="M -95.38 -3.59 A 101.50 10.50 0 0 1 -91.99 -4.44" stroke-width="20.4"/><path d="M -91.99 -4.44 A 101.50 10.50 0 0 1 -87.90 -5.25" stroke-width="21.7"/><path d="M -87.90 -5.25 A 101.50 10.50 0 0 1 -83.14 -6.02" stroke-width="22.9"/><path d="M -83.14 -6.02 A 101.50 10.50 0 0 1 -77.75 -6.75" stroke-width="24.1"/><path d="M -77.75 -6.75 A 101.50 10.50 0 0 1 77.75 -6.75" stroke-width="24.8"/><path d="M 77.75 -6.75 A 101.50 10.50 0 0 1 83.14 -6.02" stroke-width="24.3"/><path d="M 83.14 -6.02 A 101.50 10.50 0 0 1 87.90 -5.25" stroke-width="23.4"/><path d="M 87.90 -5.25 A 101.50 10.50 0 0 1 91.99 -4.44" stroke-width="22.4"/><path d="M 91.99 -4.44 A 101.50 10.50 0 0 1 95.38 -3.59" stroke-width="21.5"/><path d="M 95.38 -3.59 A 101.50 10.50 0 0 1 98.04 -2.72" stroke-width="20.6"/><path d="M 98.04 -2.72 A 101.50 10.50 0 0 1 99.96 -1.82" stroke-width="19.6"/><path d="M 99.96 -1.82 A 101.50 10.50 0 0 1 101.11 -0.92" stroke-width="18.7"/><path d="M 101.11 -0.92 A 101.50 10.50 0 0 1 101.50 -0.00" stroke-width="17.8"/></g>
<g fill="none" stroke="#ffd9a0" stroke-opacity="0.55" stroke-linecap="round" filter="url(#b3)"><path d="M -101.50 -0.00 A 101.50 10.50 0 0 1 -101.11 -0.92" stroke-width="5.8"/><path d="M -101.11 -0.92 A 101.50 10.50 0 0 1 -99.96 -1.82" stroke-width="6.3"/><path d="M -99.96 -1.82 A 101.50 10.50 0 0 1 -98.04 -2.72" stroke-width="6.8"/><path d="M -98.04 -2.72 A 101.50 10.50 0 0 1 -95.38 -3.59" stroke-width="7.2"/><path d="M -95.38 -3.59 A 101.50 10.50 0 0 1 -91.99 -4.44" stroke-width="7.7"/><path d="M -91.99 -4.44 A 101.50 10.50 0 0 1 -87.90 -5.25" stroke-width="8.2"/><path d="M -87.90 -5.25 A 101.50 10.50 0 0 1 -83.14 -6.02" stroke-width="8.6"/><path d="M -83.14 -6.02 A 101.50 10.50 0 0 1 -77.75 -6.75" stroke-width="9.1"/><path d="M -77.75 -6.75 A 101.50 10.50 0 0 1 77.75 -6.75" stroke-width="9.3"/><path d="M 77.75 -6.75 A 101.50 10.50 0 0 1 83.14 -6.02" stroke-width="9.2"/><path d="M 83.14 -6.02 A 101.50 10.50 0 0 1 87.90 -5.25" stroke-width="8.8"/><path d="M 87.90 -5.25 A 101.50 10.50 0 0 1 91.99 -4.44" stroke-width="8.5"/><path d="M 91.99 -4.44 A 101.50 10.50 0 0 1 95.38 -3.59" stroke-width="8.1"/><path d="M 95.38 -3.59 A 101.50 10.50 0 0 1 98.04 -2.72" stroke-width="7.8"/><path d="M 98.04 -2.72 A 101.50 10.50 0 0 1 99.96 -1.82" stroke-width="7.4"/><path d="M 99.96 -1.82 A 101.50 10.50 0 0 1 101.11 -0.92" stroke-width="7.1"/><path d="M 101.11 -0.92 A 101.50 10.50 0 0 1 101.50 -0.00" stroke-width="6.7"/></g>
<g fill="none" stroke="#fffaea" stroke-opacity="1" stroke-linecap="round" filter="url(#b06)"><path d="M -101.50 -0.00 A 101.50 10.50 0 0 1 -101.11 -0.92" stroke-width="3.4"/><path d="M -101.11 -0.92 A 101.50 10.50 0 0 1 -99.96 -1.82" stroke-width="3.7"/><path d="M -99.96 -1.82 A 101.50 10.50 0 0 1 -98.04 -2.72" stroke-width="4.0"/><path d="M -98.04 -2.72 A 101.50 10.50 0 0 1 -95.38 -3.59" stroke-width="4.3"/><path d="M -95.38 -3.59 A 101.50 10.50 0 0 1 -91.99 -4.44" stroke-width="4.5"/><path d="M -91.99 -4.44 A 101.50 10.50 0 0 1 -87.90 -5.25" stroke-width="4.8"/><path d="M -87.90 -5.25 A 101.50 10.50 0 0 1 -83.14 -6.02" stroke-width="5.1"/><path d="M -83.14 -6.02 A 101.50 10.50 0 0 1 -77.75 -6.75" stroke-width="5.4"/><path d="M -77.75 -6.75 A 101.50 10.50 0 0 1 77.75 -6.75" stroke-width="5.5"/><path d="M 77.75 -6.75 A 101.50 10.50 0 0 1 83.14 -6.02" stroke-width="5.4"/><path d="M 83.14 -6.02 A 101.50 10.50 0 0 1 87.90 -5.25" stroke-width="5.2"/><path d="M 87.90 -5.25 A 101.50 10.50 0 0 1 91.99 -4.44" stroke-width="5.0"/><path d="M 91.99 -4.44 A 101.50 10.50 0 0 1 95.38 -3.59" stroke-width="4.8"/><path d="M 95.38 -3.59 A 101.50 10.50 0 0 1 98.04 -2.72" stroke-width="4.6"/><path d="M 98.04 -2.72 A 101.50 10.50 0 0 1 99.96 -1.82" stroke-width="4.4"/><path d="M 99.96 -1.82 A 101.50 10.50 0 0 1 101.11 -0.92" stroke-width="4.2"/><path d="M 101.11 -0.92 A 101.50 10.50 0 0 1 101.50 -0.00" stroke-width="4.0"/></g>
</g>
<g transform="translate(598.1 765.4) rotate(-21.9)">
<path d="M -64.80 -0.00 A 64.80 5.80 0 0 0 64.80 0.00" fill="none" stroke="url(#goldG)" stroke-width="3.5" stroke-linecap="round"/>
<path d="M -63.05 -0.00 A 63.05 4.05 0 0 0 63.05 0.00" fill="none" stroke="#fff0d4" stroke-opacity="0.85" stroke-width="1.2"/>
</g>
<g transform="translate(598.1 765.4) rotate(-21.9)">
<path d="M -67.05 -0.00 A 67.05 8.05 0 0 1 67.05 -0.00" fill="none" stroke="#b9822f" stroke-width="1.6"/>
<g fill="none" stroke="#ffc98a" stroke-opacity="0.14" stroke-linecap="round" filter="url(#b10)"><path d="M -64.80 -0.00 A 64.80 5.80 0 0 1 -64.55 -0.51" stroke-width="14.6"/><path d="M -64.55 -0.51 A 64.80 5.80 0 0 1 -63.82 -1.01" stroke-width="15.3"/><path d="M -63.82 -1.01 A 64.80 5.80 0 0 1 -62.59 -1.50" stroke-width="16.1"/><path d="M -62.59 -1.50 A 64.80 5.80 0 0 1 -60.89 -1.98" stroke-width="16.8"/><path d="M -60.89 -1.98 A 64.80 5.80 0 0 1 -58.73 -2.45" stroke-width="17.6"/><path d="M -58.73 -2.45 A 64.80 5.80 0 0 1 -56.12 -2.90" stroke-width="18.4"/><path d="M -56.12 -2.90 A 64.80 5.80 0 0 1 -53.08 -3.33" stroke-width="19.1"/><path d="M -53.08 -3.33 A 64.80 5.80 0 0 1 -49.64 -3.73" stroke-width="19.9"/><path d="M -49.64 -3.73 A 64.80 5.80 0 0 1 49.64 -3.73" stroke-width="20.2"/><path d="M 49.64 -3.73 A 64.80 5.80 0 0 1 53.08 -3.33" stroke-width="20.0"/><path d="M 53.08 -3.33 A 64.80 5.80 0 0 1 56.12 -2.90" stroke-width="19.5"/><path d="M 56.12 -2.90 A 64.80 5.80 0 0 1 58.73 -2.45" stroke-width="19.0"/><path d="M 58.73 -2.45 A 64.80 5.80 0 0 1 60.89 -1.98" stroke-width="18.5"/><path d="M 60.89 -1.98 A 64.80 5.80 0 0 1 62.59 -1.50" stroke-width="18.0"/><path d="M 62.59 -1.50 A 64.80 5.80 0 0 1 63.82 -1.01" stroke-width="17.5"/><path d="M 63.82 -1.01 A 64.80 5.80 0 0 1 64.55 -0.51" stroke-width="17.0"/><path d="M 64.55 -0.51 A 64.80 5.80 0 0 1 64.80 -0.00" stroke-width="16.5"/></g>
<g fill="none" stroke="#ffd9a0" stroke-opacity="0.55" stroke-linecap="round" filter="url(#b3)"><path d="M -64.80 -0.00 A 64.80 5.80 0 0 1 -64.55 -0.51" stroke-width="5.5"/><path d="M -64.55 -0.51 A 64.80 5.80 0 0 1 -63.82 -1.01" stroke-width="5.8"/><path d="M -63.82 -1.01 A 64.80 5.80 0 0 1 -62.59 -1.50" stroke-width="6.1"/><path d="M -62.59 -1.50 A 64.80 5.80 0 0 1 -60.89 -1.98" stroke-width="6.4"/><path d="M -60.89 -1.98 A 64.80 5.80 0 0 1 -58.73 -2.45" stroke-width="6.6"/><path d="M -58.73 -2.45 A 64.80 5.80 0 0 1 -56.12 -2.90" stroke-width="6.9"/><path d="M -56.12 -2.90 A 64.80 5.80 0 0 1 -53.08 -3.33" stroke-width="7.2"/><path d="M -53.08 -3.33 A 64.80 5.80 0 0 1 -49.64 -3.73" stroke-width="7.5"/><path d="M -49.64 -3.73 A 64.80 5.80 0 0 1 49.64 -3.73" stroke-width="7.6"/><path d="M 49.64 -3.73 A 64.80 5.80 0 0 1 53.08 -3.33" stroke-width="7.6"/><path d="M 53.08 -3.33 A 64.80 5.80 0 0 1 56.12 -2.90" stroke-width="7.4"/><path d="M 56.12 -2.90 A 64.80 5.80 0 0 1 58.73 -2.45" stroke-width="7.2"/><path d="M 58.73 -2.45 A 64.80 5.80 0 0 1 60.89 -1.98" stroke-width="7.0"/><path d="M 60.89 -1.98 A 64.80 5.80 0 0 1 62.59 -1.50" stroke-width="6.8"/><path d="M 62.59 -1.50 A 64.80 5.80 0 0 1 63.82 -1.01" stroke-width="6.6"/><path d="M 63.82 -1.01 A 64.80 5.80 0 0 1 64.55 -0.51" stroke-width="6.4"/><path d="M 64.55 -0.51 A 64.80 5.80 0 0 1 64.80 -0.00" stroke-width="6.2"/></g>
<g fill="none" stroke="#fffaea" stroke-opacity="1" stroke-linecap="round" filter="url(#b06)"><path d="M -64.80 -0.00 A 64.80 5.80 0 0 1 -64.55 -0.51" stroke-width="3.2"/><path d="M -64.55 -0.51 A 64.80 5.80 0 0 1 -63.82 -1.01" stroke-width="3.4"/><path d="M -63.82 -1.01 A 64.80 5.80 0 0 1 -62.59 -1.50" stroke-width="3.6"/><path d="M -62.59 -1.50 A 64.80 5.80 0 0 1 -60.89 -1.98" stroke-width="3.7"/><path d="M -60.89 -1.98 A 64.80 5.80 0 0 1 -58.73 -2.45" stroke-width="3.9"/><path d="M -58.73 -2.45 A 64.80 5.80 0 0 1 -56.12 -2.90" stroke-width="4.1"/><path d="M -56.12 -2.90 A 64.80 5.80 0 0 1 -53.08 -3.33" stroke-width="4.2"/><path d="M -53.08 -3.33 A 64.80 5.80 0 0 1 -49.64 -3.73" stroke-width="4.4"/><path d="M -49.64 -3.73 A 64.80 5.80 0 0 1 49.64 -3.73" stroke-width="4.5"/><path d="M 49.64 -3.73 A 64.80 5.80 0 0 1 53.08 -3.33" stroke-width="4.4"/><path d="M 53.08 -3.33 A 64.80 5.80 0 0 1 56.12 -2.90" stroke-width="4.3"/><path d="M 56.12 -2.90 A 64.80 5.80 0 0 1 58.73 -2.45" stroke-width="4.2"/><path d="M 58.73 -2.45 A 64.80 5.80 0 0 1 60.89 -1.98" stroke-width="4.1"/><path d="M 60.89 -1.98 A 64.80 5.80 0 0 1 62.59 -1.50" stroke-width="4.0"/><path d="M 62.59 -1.50 A 64.80 5.80 0 0 1 63.82 -1.01" stroke-width="3.9"/><path d="M 63.82 -1.01 A 64.80 5.80 0 0 1 64.55 -0.51" stroke-width="3.8"/><path d="M 64.55 -0.51 A 64.80 5.80 0 0 1 64.80 -0.00" stroke-width="3.7"/></g>
</g>

<g stroke="#fff" stroke-width="1.6" fill="none">
<line x1="786" y1="279.5" x2="947" y2="279.5"/>
<circle cx="781.5" cy="279.5" r="4" fill="#fff" stroke="none"/>
<line x1="740" y1="336.4" x2="907" y2="336.4"/>
<circle cx="738.75" cy="333" r="2.3" fill="#fff" stroke="none"/>
<line x1="715" y1="419.5" x2="885" y2="419.5"/>
<circle cx="715.3" cy="420" r="4" fill="#fff" stroke="none"/>
<line x1="722" y1="507.3" x2="888" y2="507.3"/>
<circle cx="722" cy="507" r="4" fill="#fff" stroke="none"/>
<line x1="690" y1="594.6" x2="843.5" y2="594.6"/>
<circle cx="688" cy="592.5" r="2.3" fill="#fff" stroke="none"/>
<line x1="721" y1="673.5" x2="894" y2="673.5"/>
<circle cx="720.5" cy="674" r="4" fill="#fff" stroke="none"/>
<line x1="608" y1="755" x2="779" y2="755"/>
<circle cx="608.3" cy="755" r="3.3" fill="#fff" stroke="none"/>

<!-- vertical dim -->
<line x1="266.5" y1="166" x2="266.5" y2="769"/><line x1="260.5" y1="166" x2="273" y2="166"/><line x1="260.5" y1="769" x2="273" y2="769"/>
<!-- horizontal dim -->
<line x1="303" y1="826.8" x2="875" y2="826.8"/><line x1="303.3" y1="820.6" x2="303.3" y2="833"/><line x1="875" y1="820.6" x2="875" y2="833"/>
</g>
<g opacity="0.995">
<text x="963.21" y="289" font-size="30.6" stroke="#fff" stroke-width="0.35">D140cm/55.1&quot;</text>
<text x="921.29" y="346.4" font-size="29.6" stroke="#fff" stroke-width="0.5">D120cm/47.2&quot;</text>
<text x="892.69" y="429.3" font-size="29.6" stroke="#fff" stroke-width="0.5">D80cm/31.5&quot;</text>
<text x="901.69" y="517.7" font-size="29.6" stroke="#fff" stroke-width="0.5">D100cm/34.9&quot;</text>
<text x="847.69" y="603.75" font-size="29.6" stroke="#fff" stroke-width="0.5">D60cm/23.6&quot;</text>
<text x="899.69" y="684.2" font-size="29.6" stroke="#fff" stroke-width="0.5">D80cm/31.5&quot;</text>
<text x="796.89" y="765" font-size="29.6" stroke="#fff" stroke-width="0.5">D40cm/15.7&quot;</text>
<text x="503.10" y="878" font-size="30.8" stroke="#fff" stroke-width="0.2">D140cm/55.1&quot;</text>

<text transform="translate(212.5 262.7) rotate(90)" font-size="29.7" stroke="#fff" stroke-width="0.3">H300cm/118.1&quot;(Customizable)</text>
<text x="58.6" y="90" font-size="51.5" letter-spacing="0.95" stroke="#fff" stroke-width="0.9">Gold-7 rings</text>
</g>
</svg>
</div></body></html>
